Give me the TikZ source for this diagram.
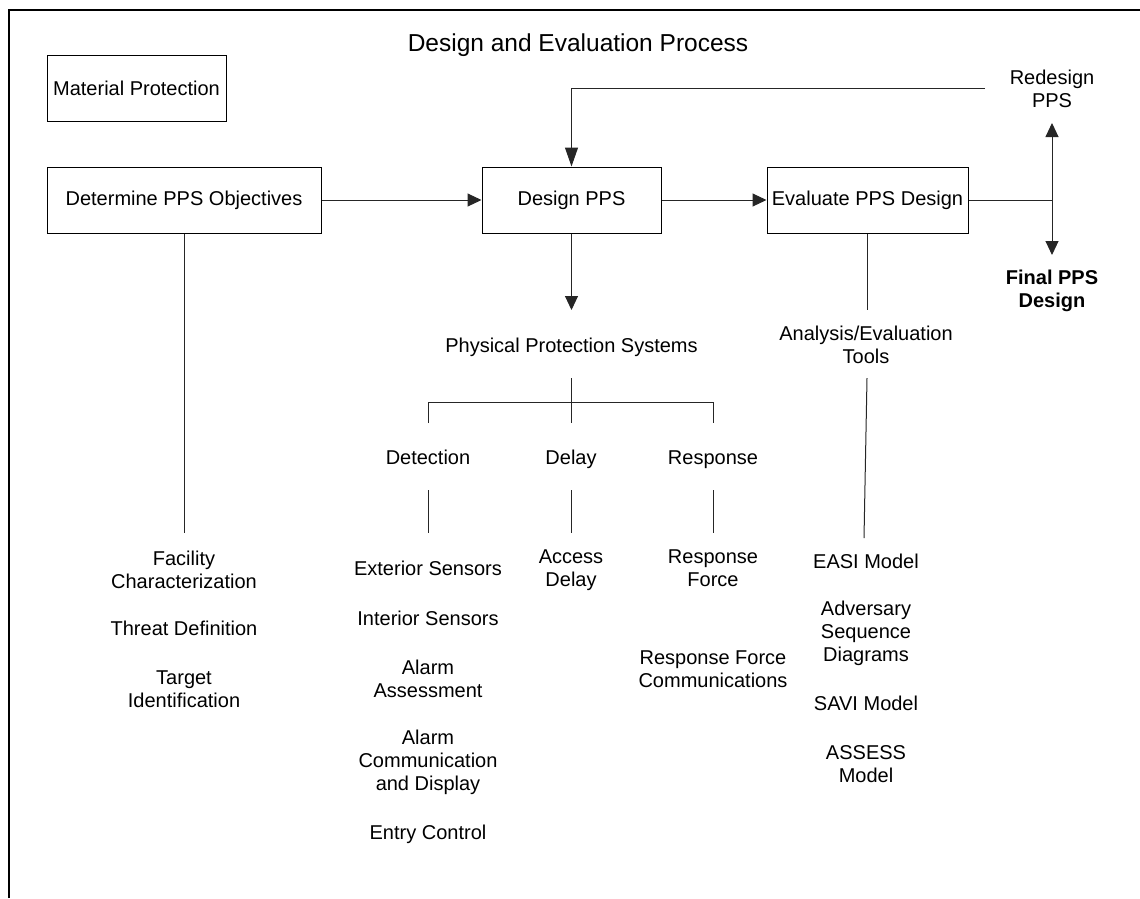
\documentclass[tikz,border=0pt]{standalone}
\usepackage{fontspec}
\setmainfont{Liberation Sans}
\usetikzlibrary{arrows.meta}
\begin{document}
\begin{tikzpicture}[x=1pt,y=-1pt,
  every node/.style={font=\fontsize{20}{23}\selectfont, inner sep=0pt},
  box/.style={draw=black, line width=1pt, minimum height=66pt},
  lbl/.style={align=center, anchor=base},
  conn/.style={draw=black!85, line width=1pt},
  arr/.style={conn, -{Triangle[length=14pt,width=13pt]}},
]
\useasboundingbox (0,0) rectangle (1140,898);
% frame
\draw[line width=1.6pt] (9,898) -- (9,10) -- (1140,10);

% title
\node[font=\fontsize{24.5}{28}\selectfont, anchor=base] (title) at (578,51.5) {Design and Evaluation Process};

% main process boxes
\node[box, minimum width=179pt] (mat) at (136.5,88) {Material Protection};
\node[box, minimum width=274pt] (det) at (184,200) {Determine PPS Objectives};
\node[box, minimum width=179pt] (des) at (571.5,200) {Design PPS};
\node[box, minimum width=201pt] (eva) at (867.5,200) {Evaluate PPS Design};

% outcome labels (base = baseline of the last line)
\node[lbl] (redesign) at (1052,107) {Redesign\\PPS};
\node[lbl, font=\fontsize{20}{23}\selectfont\bfseries] (final) at (1052,307) {Final PPS\\Design};

% main flow
\draw[arr] (det.east) -- (des.west);
\draw[arr] (des.east) -- (eva.west);

% redesign loop and decision split
\coordinate (loopend) at (985,88);
\draw[conn, -{Triangle[length=19pt,width=13pt]}] (loopend) -| (des.north);
\coordinate (split) at (1052,200);
\coordinate (upTip) at (1052,123);
\coordinate (downTip) at (1052,255);
\draw[conn] (eva.east) -- (split);
\draw[arr] (split) -- (upTip);
\draw[arr] (split) -- (downTip);

% objectives column
\node[lbl] (fac) at (184,588) {Facility\\Characterization};
\node[lbl] (thr) at (184,635) {Threat Definition};
\node[lbl] (tar) at (184,707) {Target\\Identification};
\coordinate (detEnd) at (184,533);
\draw[conn] (det.south) -- (detEnd);

% physical protection systems
\coordinate (ppsIn) at (571.5,310);
\draw[arr] (des.south) -- (ppsIn);
\node[lbl] (pps) at (571.5,352) {Physical Protection Systems};
\coordinate (ppsOut) at (571,378);
\coordinate (bus) at (571,402);
\coordinate (detIn) at (428,423);
\coordinate (delIn) at (571,423);
\coordinate (resIn) at (713,423);
\draw[conn] (ppsOut) -- (delIn);
\draw[conn] (detIn) |- (bus) -| (resIn);

\node[lbl] (detection) at (428,464) {Detection};
\node[lbl] (delay) at (571,464) {Delay};
\node[lbl] (response) at (713,464) {Response};

\coordinate (detA) at (428,490);
\coordinate (detB) at (428,533);
\coordinate (delA) at (571,490);
\coordinate (delB) at (571,533);
\coordinate (resA) at (713,490);
\coordinate (resB) at (713,533);
\draw[conn] (detA) -- (detB);
\draw[conn] (delA) -- (delB);
\draw[conn] (resA) -- (resB);

% detection elements
\node[lbl] (ext) at (428,575) {Exterior Sensors};
\node[lbl] (int) at (428,625) {Interior Sensors};
\node[lbl] (ass) at (428,697) {Alarm\\Assessment};
\node[lbl] (acd) at (428,790) {Alarm\\Communication\\and Display};
\node[lbl] (ent) at (428,839) {Entry Control};

% delay elements
\node[lbl] (acc) at (571,586) {Access\\Delay};

% response elements
\node[lbl] (rf) at (713,586) {Response\\Force};
\node[lbl] (rfc) at (713,687) {Response Force\\Communications};

% analysis and evaluation tools
\coordinate (anaIn) at (867.5,310);
\draw[conn] (eva.south) -- (anaIn);
\node[lbl] (ana) at (866,363) {Analysis/Evaluation\\Tools};
\coordinate (anaOut) at (867,378);
\coordinate (anaEnd) at (864,538);
\draw[conn] (anaOut) -- (anaEnd);

\node[lbl] (easi) at (866,568) {EASI Model};
\node[lbl] (asd) at (866,661) {Adversary\\Sequence\\Diagrams};
\node[lbl] (savi) at (866,710) {SAVI Model};
\node[lbl] (assess) at (866,782) {ASSESS\\Model};
\end{tikzpicture}
\end{document}
